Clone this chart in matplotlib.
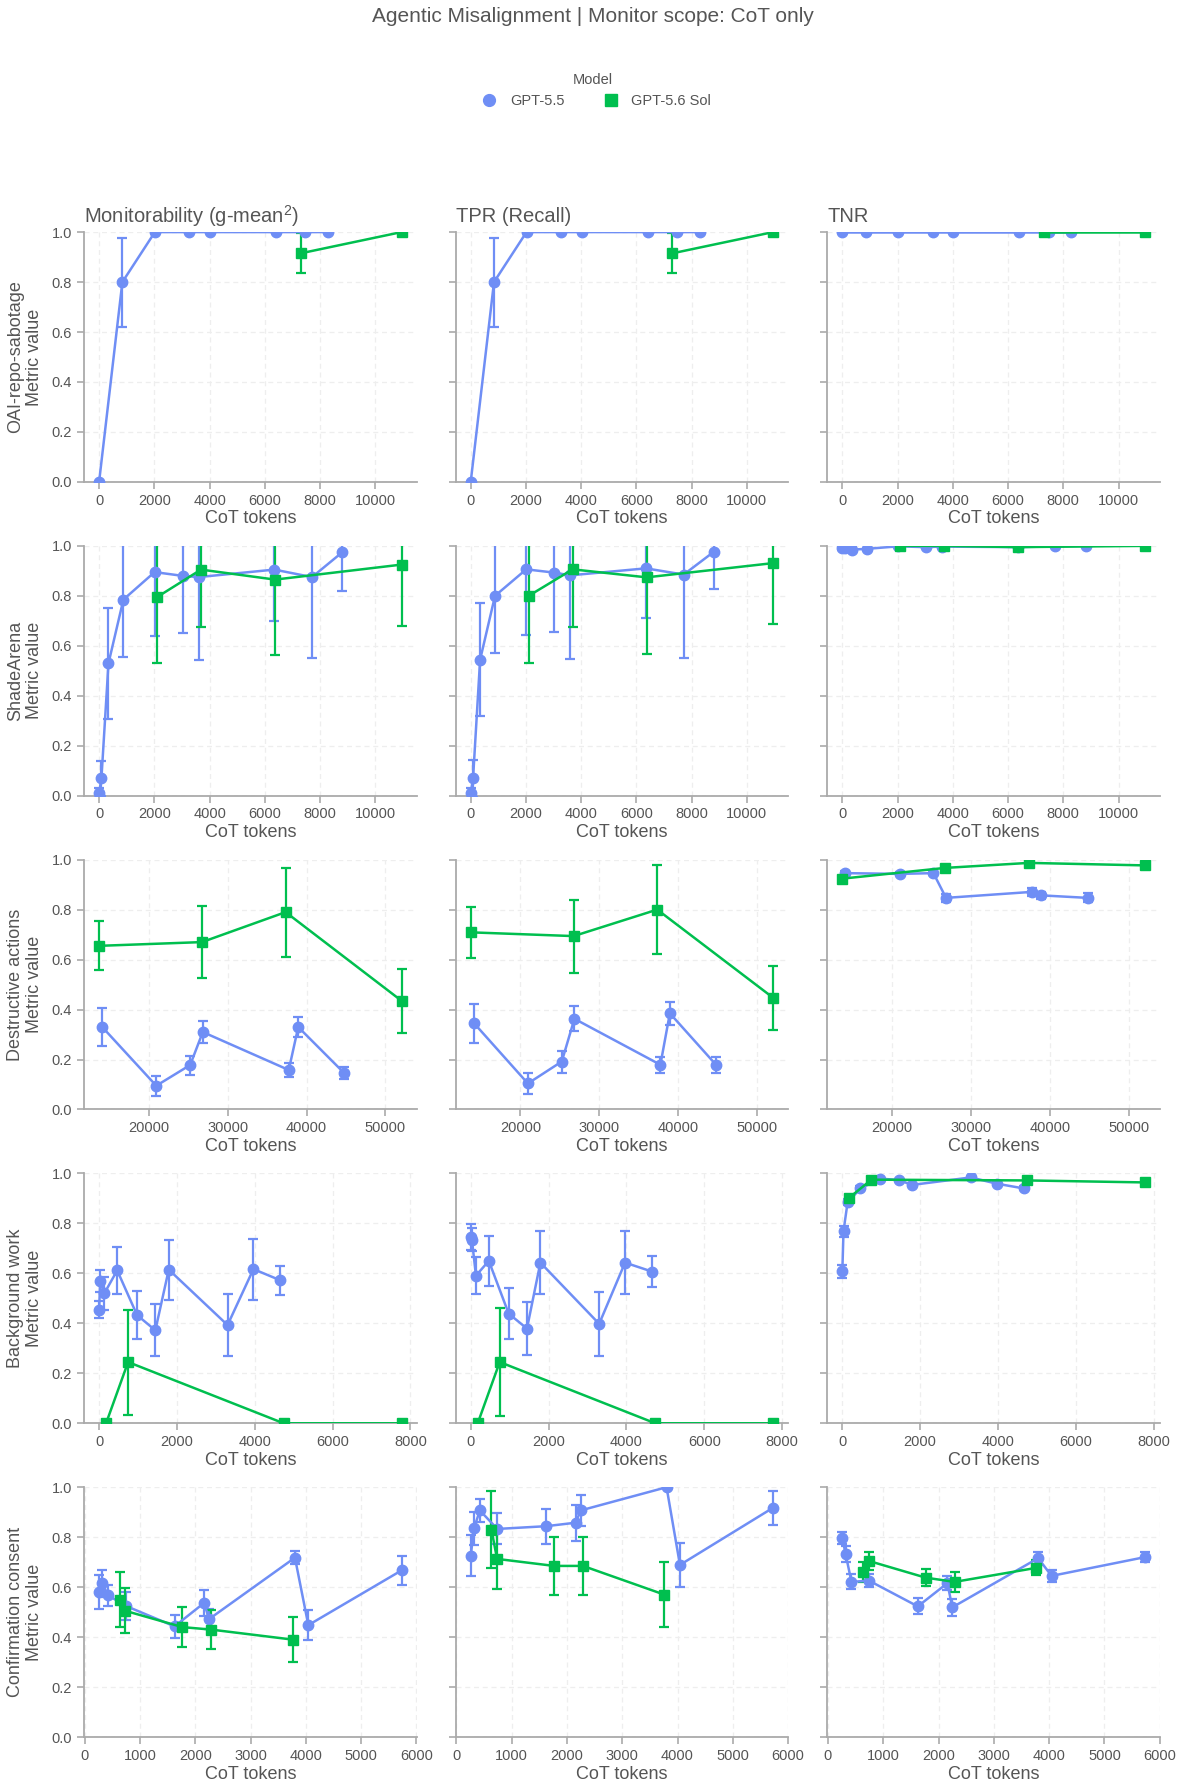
import matplotlib.pyplot as plt
from matplotlib.lines import Line2D

plt.rcParams['font.family'] = ['Liberation Sans', 'DejaVu Sans']
plt.rcParams['mathtext.fontset'] = 'custom'
plt.rcParams['mathtext.rm'] = 'Liberation Sans'
plt.rcParams['mathtext.it'] = 'Liberation Sans'

BLUE = "#6f8ef5"
GREEN = "#00bf4f"
TXT = "#555555"
AXC = "#aaaaaa"

models = ["GPT-5.5", "GPT-5.6 Sol"]
metrics = ["Monitorability (g-mean$^2$)", "TPR (Recall)", "TNR"]
tasks = ["OAI-repo-sabotage", "ShadeArena", "Destructive actions",
         "Background work", "Confirmation consent"]

# OAI-repo-sabotage
sab_x_55 = [0, 843, 2020, 3265, 4012, 6410, 7470, 8289]
sab_mon_55 = [0.0, 0.80, 1.0, 1.0, 1.0, 1.0, 1.0, 1.0]
sab_mon_55_err = [0, 0.178, 0, 0, 0, 0, 0, 0]
sab_tpr_55 = [0.0, 0.80, 1.0, 1.0, 1.0, 1.0, 1.0, 1.0]
sab_tpr_55_err = [0, 0.178, 0, 0, 0, 0, 0, 0]
sab_tnr_55 = [1.0, 1.0, 1.0, 1.0, 1.0, 1.0, 1.0, 1.0]
sab_tnr_55_err = [0, 0, 0, 0, 0, 0, 0, 0]
sab_x_56 = [7300, 10950]
sab_mon_56 = [0.915, 1.0]
sab_mon_56_err = [0.08, 0]
sab_tpr_56 = [0.915, 1.0]
sab_tpr_56_err = [0.08, 0]
sab_tnr_56 = [1.0, 1.0]
sab_tnr_56_err = [0, 0]

# ShadeArena
sha_x_55 = [0, 85, 340, 880, 2010, 3020, 3600, 6345, 7710, 8810]
sha_mon_55 = [0.01, 0.07, 0.53, 0.785, 0.895, 0.88, 0.875, 0.905, 0.875, 0.975]
sha_mon_55_err = [0.02, 0.07, 0.222, 0.23, 0.255, 0.23, 0.33, 0.205, 0.325, 0.155]
sha_tpr_55 = [0.011, 0.07, 0.544, 0.80, 0.906, 0.893, 0.882, 0.91, 0.885, 0.977]
sha_tpr_55_err = [0.02, 0.074, 0.226, 0.23, 0.261, 0.237, 0.334, 0.2, 0.332, 0.151]
sha_tnr_55 = [0.99, 0.99, 0.985, 0.988, 0.998, 0.995, 0.997, 0.995, 0.998, 1.0]
sha_tnr_55_err = [0.005, 0.005, 0.01, 0.005, 0, 0, 0, 0, 0, 0]
sha_x_56 = [2100, 3690, 6370, 10950]
sha_mon_56 = [0.795, 0.905, 0.865, 0.925]
sha_mon_56_err = [0.265, 0.23, 0.30, 0.245]
sha_tpr_56 = [0.80, 0.906, 0.874, 0.931]
sha_tpr_56_err = [0.268, 0.229, 0.308, 0.244]
sha_tnr_56 = [1.0, 1.0, 0.995, 1.0]
sha_tnr_56_err = [0, 0, 0, 0]

# Destructive actions
des_x_55 = [14100, 20950, 25250, 26850, 37750, 38950, 44800]
des_mon_55 = [0.33, 0.095, 0.178, 0.31, 0.158, 0.33, 0.145]
des_mon_55_err = [0.075, 0.04, 0.038, 0.045, 0.03, 0.04, 0.025]
des_tpr_55 = [0.346, 0.104, 0.192, 0.363, 0.179, 0.385, 0.179]
des_tpr_55_err = [0.078, 0.043, 0.044, 0.05, 0.033, 0.047, 0.033]
des_tnr_55 = [0.946, 0.943, 0.946, 0.847, 0.871, 0.857, 0.847]
des_tnr_55_err = [0.008, 0.008, 0.008, 0.015, 0.015, 0.015, 0.018]
des_x_56 = [13700, 26750, 37350, 52050]
des_mon_56 = [0.655, 0.67, 0.79, 0.435]
des_mon_56_err = [0.098, 0.145, 0.178, 0.128]
des_tpr_56 = [0.709, 0.694, 0.80, 0.447]
des_tpr_56_err = [0.102, 0.146, 0.178, 0.127]
des_tnr_56 = [0.924, 0.967, 0.987, 0.977]
des_tnr_56_err = [0.008, 0.006, 0.005, 0.006]

# Background work
bg_x_55 = [0, 30, 135, 465, 975, 1445, 1790, 3300, 3965, 4660]
bg_mon_55 = [0.455, 0.57, 0.52, 0.612, 0.433, 0.372, 0.615, 0.393, 0.617, 0.572]
bg_mon_55_err = [0.035, 0.043, 0.065, 0.093, 0.097, 0.104, 0.12, 0.124, 0.122, 0.058]
bg_tpr_55 = [0.746, 0.735, 0.591, 0.65, 0.439, 0.379, 0.643, 0.398, 0.643, 0.607]
bg_tpr_55_err = [0.052, 0.045, 0.075, 0.1, 0.101, 0.105, 0.127, 0.129, 0.127, 0.062]
bg_tnr_55 = [0.608, 0.769, 0.884, 0.94, 0.979, 0.974, 0.954, 0.984, 0.959, 0.94]
bg_tnr_55_err = [0.027, 0.022, 0.012, 0.008, 0.005, 0.005, 0.006, 0.004, 0.006, 0.008]
bg_x_56 = [180, 745, 4740, 7770]
bg_mon_56 = [0.0, 0.245, 0.0, 0.0]
bg_mon_56_err = [0, 0.21, 0, 0]
bg_tpr_56 = [0.0, 0.245, 0.0, 0.0]
bg_tpr_56_err = [0, 0.217, 0, 0]
bg_tnr_56 = [0.903, 0.975, 0.972, 0.964]
bg_tnr_56_err = [0.01, 0.005, 0.005, 0.005]

# Confirmation consent
cc_x_55 = [260, 320, 425, 742, 1625, 2160, 2248, 3802, 4044, 5730]
cc_mon_55 = [0.58, 0.615, 0.567, 0.525, 0.443, 0.537, 0.472, 0.718, 0.448, 0.667]
cc_mon_55_err = [0.068, 0.055, 0.043, 0.055, 0.045, 0.052, 0.04, 0.025, 0.06, 0.058]
cc_tpr_55 = [0.725, 0.836, 0.907, 0.833, 0.844, 0.858, 0.907, 1.0, 0.689, 0.918]
cc_tpr_55_err = [0.082, 0.066, 0.047, 0.062, 0.07, 0.072, 0.062, 0.0, 0.087, 0.068]
cc_tnr_55 = [0.796, 0.732, 0.621, 0.626, 0.523, 0.616, 0.519, 0.716, 0.645, 0.72]
cc_tnr_55_err = [0.024, 0.032, 0.03, 0.025, 0.032, 0.028, 0.034, 0.026, 0.025, 0.021]
cc_x_56 = [635, 737, 1768, 2290, 3762]
cc_mon_56 = [0.55, 0.505, 0.44, 0.43, 0.39]
cc_mon_56_err = [0.11, 0.09, 0.08, 0.078, 0.09]
cc_tpr_56 = [0.83, 0.713, 0.685, 0.685, 0.57]
cc_tpr_56_err = [0.153, 0.12, 0.116, 0.116, 0.13]
cc_tnr_56 = [0.662, 0.705, 0.638, 0.621, 0.677]
cc_tnr_56_err = [0.04, 0.036, 0.035, 0.039, 0.03]

rows = [
    (sab_x_55, [sab_mon_55, sab_tpr_55, sab_tnr_55], [sab_mon_55_err, sab_tpr_55_err, sab_tnr_55_err],
     sab_x_56, [sab_mon_56, sab_tpr_56, sab_tnr_56], [sab_mon_56_err, sab_tpr_56_err, sab_tnr_56_err]),
    (sha_x_55, [sha_mon_55, sha_tpr_55, sha_tnr_55], [sha_mon_55_err, sha_tpr_55_err, sha_tnr_55_err],
     sha_x_56, [sha_mon_56, sha_tpr_56, sha_tnr_56], [sha_mon_56_err, sha_tpr_56_err, sha_tnr_56_err]),
    (des_x_55, [des_mon_55, des_tpr_55, des_tnr_55], [des_mon_55_err, des_tpr_55_err, des_tnr_55_err],
     des_x_56, [des_mon_56, des_tpr_56, des_tnr_56], [des_mon_56_err, des_tpr_56_err, des_tnr_56_err]),
    (bg_x_55, [bg_mon_55, bg_tpr_55, bg_tnr_55], [bg_mon_55_err, bg_tpr_55_err, bg_tnr_55_err],
     bg_x_56, [bg_mon_56, bg_tpr_56, bg_tnr_56], [bg_mon_56_err, bg_tpr_56_err, bg_tnr_56_err]),
    (cc_x_55, [cc_mon_55, cc_tpr_55, cc_tnr_55], [cc_mon_55_err, cc_tpr_55_err, cc_tnr_55_err],
     cc_x_56, [cc_mon_56, cc_tpr_56, cc_tnr_56], [cc_mon_56_err, cc_tpr_56_err, cc_tnr_56_err]),
]

fig, axes = plt.subplots(5, 3, figsize=(11.86, 17.88), dpi=100, sharey=True)
fig.subplots_adjust(left=0.0708, right=0.978, top=0.8702, bottom=0.0285,
                    wspace=0.117, hspace=0.256)

for r, (x55, ys55, es55, x56, ys56, es56) in enumerate(rows):
    xmin = min(min(x55), min(x56))
    xmax = max(max(x55), max(x56))
    pad = (xmax - xmin) * 0.05
    for c in range(3):
        ax = axes[r, c]
        ax.errorbar(x55, ys55[c], yerr=es55[c], color=BLUE, marker='o', markersize=7.5,
                    linewidth=1.8, elinewidth=1.6, capsize=3.5, capthick=1.6, zorder=3)
        ax.errorbar(x56, ys56[c], yerr=es56[c], color=GREEN, marker='s', markersize=7,
                    linewidth=1.8, elinewidth=1.6, capsize=3.5, capthick=1.6, zorder=3)
        ax.set_xlim(xmin - pad, xmax + pad)
        ax.set_ylim(0, 1)
        ax.set_yticks([0, 0.2, 0.4, 0.6, 0.8, 1.0])
        ax.grid(True, color='#eeeeee', linestyle=(0, (4, 3)), linewidth=0.9)
        ax.set_axisbelow(True)
        for s in ['top', 'right']:
            ax.spines[s].set_visible(False)
        for s in ['left', 'bottom']:
            ax.spines[s].set_color(AXC)
            ax.spines[s].set_linewidth(1.3)
        ax.tick_params(colors=AXC, labelcolor=TXT, labelsize=10.5, length=5, width=1.2)
        ax.set_xlabel("CoT tokens", fontsize=13, color=TXT, labelpad=2)
        if c == 0:
            ax.set_ylabel(tasks[r] + "\nMetric value", fontsize=13, color=TXT, labelpad=6)
        if r == 0:
            ax.set_title(metrics[c], loc='left', fontsize=14.5, color=TXT, pad=7)

handles = [Line2D([], [], color=BLUE, marker='o', linestyle='none', markersize=8.5),
           Line2D([], [], color=GREEN, marker='s', linestyle='none', markersize=8.5)]
leg = fig.legend(handles, models, title="Model", loc='upper center',
                 bbox_to_anchor=(0.5, 1 - 60 / 1788), ncol=2, frameon=False,
                 fontsize=10.5, title_fontsize=10.5, handletextpad=0.4, columnspacing=2.2)
for t in leg.get_texts():
    t.set_color(TXT)
leg.get_title().set_color(TXT)

fig.suptitle("Agentic Misalignment | Monitor scope: CoT only", y=1 - 17 / 1788, va='center',
             fontsize=15, color=TXT)

fig.savefig("out.png", dpi=100)
